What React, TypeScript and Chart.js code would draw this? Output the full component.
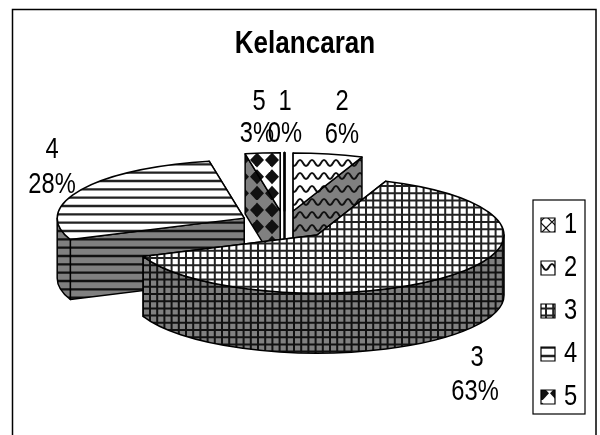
import React, { useEffect, useRef } from "react";
import { Chart, registerables, PieController } from "chart.js";

const title = "Kelancaran";
const categories = ["1", "2", "3", "4", "5"];
const shares = [0, 6, 63, 28, 3];
const FONT = '"Liberation Sans", Arial, sans-serif';
const NARROW = 0.79;

// Geometry of the tilted pie on the page
const PIE_X = 284.5;
const PIE_Y = 225;
const RADIUS = 187;
const SQUASH = 0.31;
const EXPLODE = 46;
const DEPTH = 60;

// label anchors: [name x, name y, share x, share y]
const labelAnchors = [
  [285, 102, 285, 134],
  [342, 102, 342, 135],
  [477, 358, 475, 392],
  [52, 150, 52, 185],
  [259, 102, 257, 134],
];

type Kind = "lattice" | "wave" | "grid" | "stripe" | "diamond";
const kinds: Kind[] = ["lattice", "wave", "grid", "stripe", "diamond"];

function makeTile(kind: Kind, bg: string, ink: string): HTMLCanvasElement {
  const c = document.createElement("canvas");
  const sizes: Record<Kind, [number, number]> = {
    lattice: [12, 12],
    wave: [12, 13],
    grid: [36, 36],
    stripe: [4, 25],
    diamond: [15, 50],
  };
  const [w, h] = sizes[kind];
  c.width = w;
  c.height = h;
  const g = c.getContext("2d")!;
  g.fillStyle = bg;
  g.fillRect(0, 0, w, h);
  g.strokeStyle = ink;
  g.fillStyle = ink;
  if (kind === "lattice") {
    g.lineWidth = 1.2;
    g.beginPath();
    g.moveTo(6, 0); g.lineTo(12, 6); g.lineTo(6, 12); g.lineTo(0, 6); g.closePath();
    g.stroke();
  } else if (kind === "wave") {
    g.lineWidth = 2;
    g.beginPath();
    g.moveTo(-3, 7);
    g.quadraticCurveTo(0, 1, 3, 7);
    g.quadraticCurveTo(6, 13, 9, 7);
    g.quadraticCurveTo(12, 1, 15, 7);
    g.stroke();
  } else if (kind === "grid") {
    g.lineWidth = 2;
    g.beginPath();
    for (let i = 0; i < 5; i++) {
      const p = i * 7.2 + 6;
      g.moveTo(p, 0); g.lineTo(p, h);
      g.moveTo(0, p); g.lineTo(w, p);
    }
    g.stroke();
  } else if (kind === "stripe") {
    g.lineWidth = 2.4;
    g.beginPath();
    for (let i = 0; i < 3; i++) {
      const p = i * (25 / 3) + 6;
      g.moveTo(0, p); g.lineTo(w, p);
    }
    g.stroke();
  } else {
    for (let i = 0; i < 3; i++) {
      const y = i * (50 / 3) + 10;
      for (const x of [2, 17]) {
        g.beginPath();
        g.moveTo(x, y - 7.5); g.lineTo(x + 7, y); g.lineTo(x, y + 7.5); g.lineTo(x - 7, y);
        g.closePath();
        g.fill();
      }
    }
  }
  return c;
}

const wallFills: Record<number, CanvasPattern> = {};

class Pie3DController extends PieController {
  static id = "pie3d";
  static defaults = {};

  draw() {
    const ctx = this.chart.ctx;
    const arcs: any[] = this.getMeta().data as any[];
    const mid = (a: any) => (a.startAngle + a.endAngle) / 2;
    const order = arcs
      .map((a, i) => i)
      .sort((p, q) => Math.sin(mid(arcs[p])) - Math.sin(mid(arcs[q])));

    for (const i of order) {
      const arc = arcs[i];
      const s = arc.startAngle;
      const e = arc.endAngle;
      const m = mid(arc);
      const rx = arc.outerRadius;
      const ry = rx * SQUASH;
      const ax = PIE_X + EXPLODE * Math.cos(m);
      const ay = PIE_Y + EXPLODE * Math.sin(m) * SQUASH;
      const rim = (t: number): [number, number] => [ax + rx * Math.cos(t), ay + ry * Math.sin(t)];
      const wall = wallFills[i];

      ctx.save();
      ctx.lineWidth = e === s ? 2 : 1.5;
      ctx.strokeStyle = "#000";
      ctx.lineJoin = "round";
      ctx.fillStyle = wall;

      // flat walls along both cut edges, the far one first
      const cuts = [s, e].sort((p, q) => Math.sin(p) - Math.sin(q));
      for (const t of cuts) {
        const [px, py] = rim(t);
        ctx.beginPath();
        ctx.moveTo(ax, ay);
        ctx.lineTo(px, py);
        ctx.lineTo(px, py + DEPTH);
        ctx.lineTo(ax, ay + DEPTH);
        ctx.closePath();
        ctx.fill();
        ctx.stroke();
      }

      // curved wall: only the front half of the rim shows
      for (const k of [0, 1]) {
        const from = Math.max(s, k * 2 * Math.PI);
        const to = Math.min(e, k * 2 * Math.PI + Math.PI);
        if (to > from) {
          ctx.beginPath();
          ctx.ellipse(ax, ay, rx, ry, 0, from, to);
          ctx.ellipse(ax, ay + DEPTH, rx, ry, 0, to, from, true);
          ctx.closePath();
          ctx.fill();
          ctx.stroke();
        }
      }

      // the top face is the library's own arc, flattened
      const fill = arc.options.backgroundColor as CanvasPattern;
      ctx.save();
      ctx.translate(ax, ay);
      ctx.scale(1, SQUASH);
      ctx.translate(-arc.x, -arc.y);
      if (e > s) {
        fill.setTransform(ctx.getTransform().inverse());
        arc.draw(ctx);
        fill.setTransform(new DOMMatrix());
      }
      ctx.restore();

      ctx.beginPath();
      ctx.moveTo(ax, ay);
      ctx.ellipse(ax, ay, rx, ry, 0, s, e);
      ctx.closePath();
      ctx.stroke();
      ctx.restore();
    }
  }
}

Chart.register(...registerables, Pie3DController as any);

function narrowText(ctx: CanvasRenderingContext2D, text: string, x: number, y: number, align: CanvasTextAlign) {
  ctx.save();
  ctx.translate(x, y);
  ctx.scale(NARROW, 1);
  ctx.textAlign = align;
  ctx.textBaseline = "middle";
  ctx.fillText(text, 0, 0);
  ctx.restore();
}

const framePlugin = {
  id: "frame",
  afterLayout(chart: any) {
    // the title has the condensed look of the original: narrow the library's own block
    const block = chart.titleBlock;
    if (block && !block.__narrowed) {
      const original = block.draw.bind(block);
      const centre = (block.left + block.right) / 2;
      block.draw = () => {
        const ctx = chart.ctx;
        ctx.save();
        ctx.translate(305, 0);
        ctx.scale(0.84, 1);
        ctx.translate(-centre, 0);
        original();
        ctx.restore();
      };
      block.__narrowed = true;
    }
  },
  beforeDraw(chart: any) {
    const { ctx, width, height } = chart;
    ctx.save();
    ctx.fillStyle = "#fff";
    ctx.fillRect(0, 0, width, height);
    ctx.strokeStyle = "#000";
    ctx.lineWidth = 1.5;
    ctx.strokeRect(12.5, 9.5, 583.5, 440);
    ctx.lineWidth = 1.2;
    ctx.strokeRect(533, 200, 52, 214);
    ctx.restore();
  },
  afterDraw(chart: any) {
    const { ctx } = chart;
    ctx.save();
    ctx.fillStyle = "#000";
    ctx.font = `30px ${FONT}`;
    categories.forEach((name, i) => {
      const [nx, ny, sx, sy] = labelAnchors[i];
      narrowText(ctx, name, nx, ny, "center");
      narrowText(ctx, `${shares[i]}%`, sx, sy, "center");
      const hit = chart.legend.legendHitBoxes[i];
      narrowText(ctx, name, hit.left + 23, hit.top + hit.height / 2, "left");
    });
    ctx.restore();
  },
};

export default function App() {
  const ref = useRef<HTMLCanvasElement>(null);
  useEffect(() => {
    const canvas = ref.current!;
    const ctx = canvas.getContext("2d")!;
    const tops = kinds.map((k) => ctx.createPattern(makeTile(k, "#fff", k === "grid" || k === "stripe" ? "#222" : "#111"), "repeat")!);
    kinds.forEach((k, i) => {
      wallFills[i] = ctx.createPattern(makeTile(k, "#808080", "#111"), "repeat")!;
    });
    const chart = new Chart(canvas, {
      type: "pie3d" as any,
      data: {
        labels: categories,
        datasets: [
          {
            data: shares,
            backgroundColor: tops,
            borderWidth: 0,
            radius: RADIUS,
            clip: false,
          } as any,
        ],
      },
      plugins: [framePlugin],
      options: {
        responsive: false,
        animation: false,
        devicePixelRatio: 1,
        layout: { padding: { left: 10, right: 21, top: 0, bottom: 9 } },
        plugins: {
          tooltip: { enabled: false },
          title: {
            display: true,
            text: title,
            color: "#000",
            font: { family: FONT, size: 31, weight: "bold" },
            padding: { top: 26, bottom: 8 },
          },
          legend: {
            position: "right",
            align: "end",
            labels: {
              color: "#000",
              boxWidth: 14,
              boxHeight: 14,
              padding: 15,
              font: { family: FONT, size: 28 },
              generateLabels: (c: any) =>
                (PieController as any).overrides.plugins.legend.labels
                  .generateLabels(c)
                  .map((l: any) => ({ ...l, text: "", lineWidth: 1.2, strokeStyle: "#000" })),
            },
          },
        },
      } as any,
    });
    return () => chart.destroy();
  }, []);
  return (
    <canvas
      ref={ref}
      width={600}
      height={435}
      style={{ position: "absolute", left: 0, top: 0, display: "block" }}
    />
  );
}
